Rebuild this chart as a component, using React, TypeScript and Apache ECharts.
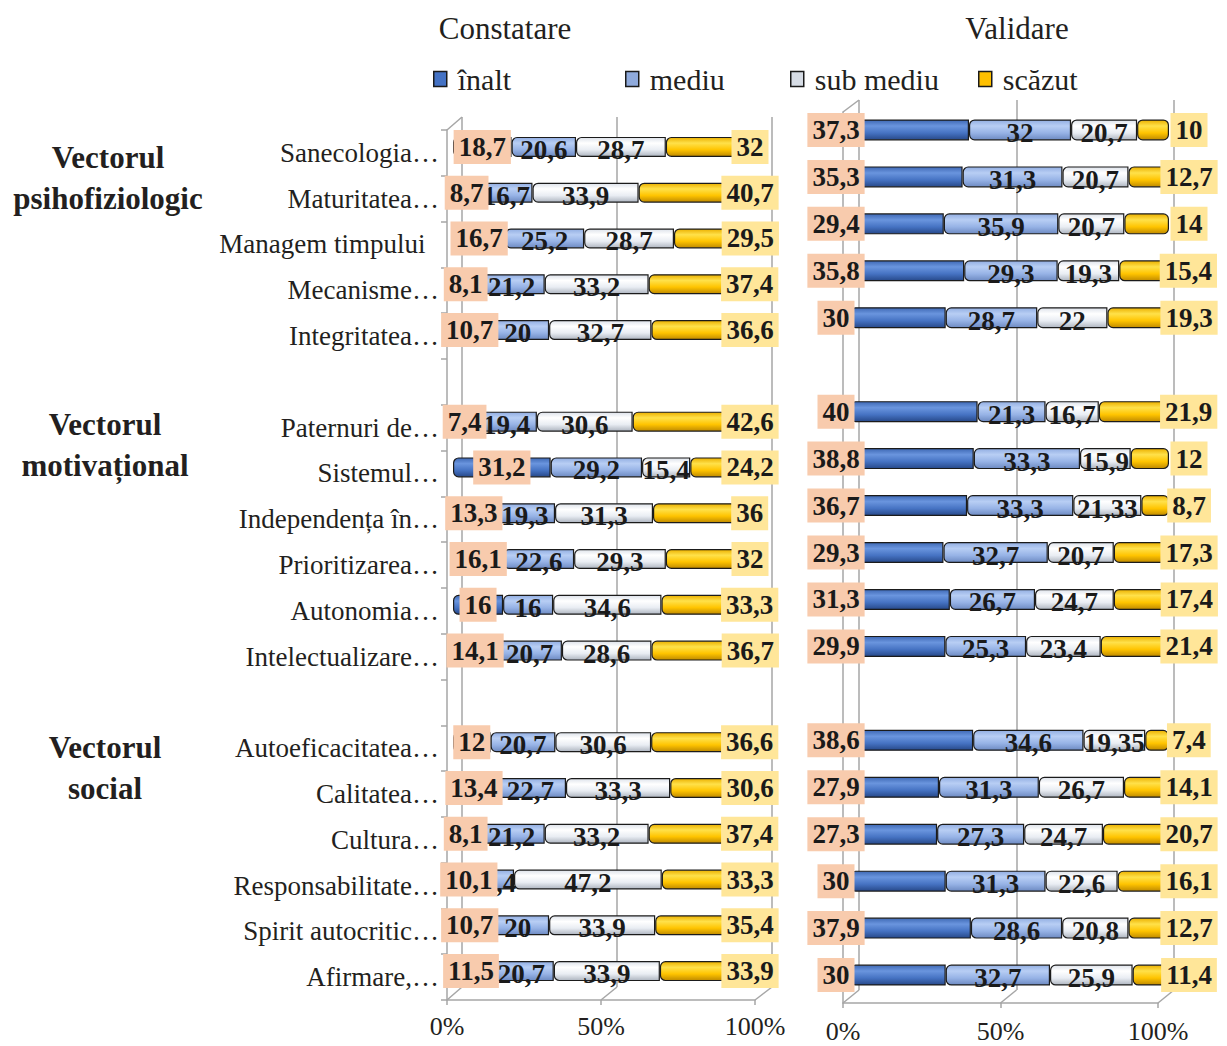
import React, { useEffect, useRef } from 'react';
import * as echarts from 'echarts';

const categories = [
  'Sanecologia…', 'Maturitatea…', 'Managem timpului\u00a0\u00a0', 'Mecanisme…', 'Integritatea…', '',
  'Paternuri de…', 'Sistemul…', 'Independența în…', 'Prioritizarea…', 'Autonomia…', 'Intelectualizare…', ' ',
  'Autoeficacitatea…', 'Calitatea…', 'Cultura…', 'Responsabilitate…', 'Spirit autocritic…', 'Afirmare,…',
];

const seriesNames = ['înalt', 'mediu', 'sub mediu', 'scăzut'];
const panelTitles = ['Constatare', 'Validare'];
const groupLabels = ['Vectorul\npsihofiziologic', 'Vectorul\nmotivațional', 'Vectorul\nsocial'];
const xTicks = [0, 50, 100];

// Constatare
const constInalt = [18.7, 8.7, 16.7, 8.1, 10.7, null, 7.4, 31.2, 13.3, 16.1, 16, 14.1, null, 12, 13.4, 8.1, 10.1, 10.7, 11.5];
const constMediu = [20.6, 16.7, 25.2, 21.2, 20, null, 19.4, 29.2, 19.3, 22.6, 16, 20.7, null, 20.7, 22.7, 21.2, 9.4, 20, 20.7];
const constSub = [28.7, 33.9, 28.7, 33.2, 32.7, null, 30.6, 15.4, 31.3, 29.3, 34.6, 28.6, null, 30.6, 33.3, 33.2, 47.2, 33.9, 33.9];
const constScazut = [32, 40.7, 29.5, 37.4, 36.6, null, 42.6, 24.2, 36, 32, 33.3, 36.7, null, 36.6, 30.6, 37.4, 33.3, 35.4, 33.9];

// Validare
const valInalt = [37.3, 35.3, 29.4, 35.8, 30, null, 40, 38.8, 36.7, 29.3, 31.3, 29.9, null, 38.6, 27.9, 27.3, 30, 37.9, 30];
const valMediu = [32, 31.3, 35.9, 29.3, 28.7, null, 21.3, 33.3, 33.3, 32.7, 26.7, 25.3, null, 34.6, 31.3, 27.3, 31.3, 28.6, 32.7];
const valSub = [20.7, 20.7, 20.7, 19.3, 22, null, 16.7, 15.9, 21.33, 20.7, 24.7, 23.4, null, 19.35, 26.7, 24.7, 22.6, 20.8, 25.9];
const valScazut = [10, 12.7, 14, 15.4, 19.3, null, 21.9, 12, 8.7, 17.3, 17.4, 21.4, null, 7.4, 14.1, 20.7, 16.1, 12.7, 11.4];

const SERIF = '"Liberation Serif", "Times New Roman", serif';
const TEXT = '#231F20';
const GRID_LINE = '#A6A6A6';

const LEFT = {
  front: { x0: 447, x1: 755, top: 130, bottom: 1000 },
  back: { x0: 462, x1: 772, top: 117, bottom: 987 },
  bar: { x0: 453, x1: 766, top: 124, bottom: 994 },
};
const RIGHT = {
  front: { x0: 843, x1: 1158, top: 112, bottom: 1003 },
  back: { x0: 859, x1: 1174, top: 100, bottom: 990 },
  bar: { x0: 850, x1: 1169, top: 106.5, bottom: 998.5 },
};

const grad = (stops: [number, string][]) =>
  new echarts.graphic.LinearGradient(0, 0, 0, 1, stops.map(([offset, color]) => ({ offset, color })));

const fills = [
  grad([[0, '#3F69B5'], [0.3, '#6A95DE'], [0.65, '#4673C3'], [1, '#27498A']]),
  grad([[0, '#92AEE2'], [0.3, '#B8CEF4'], [0.65, '#97B3E6'], [1, '#6D8AC2']]),
  grad([[0, '#DDE2EA'], [0.3, '#FFFFFF'], [0.65, '#E9EDF3'], [1, '#AEB5C0']]),
  grad([[0, '#EBB000'], [0.3, '#FFE14A'], [0.65, '#FFC400'], [1, '#BF8A00']]),
];
const legendColors = ['#4472C4', '#8FAADC', '#D6DCE5', '#FFC000'];
const legendLefts = [433, 625, 790, 978];

const fmt = (p: any) => (p.value == null ? '' : String(p.value).replace('.', ','));

const labelBase = {
  show: true,
  fontFamily: SERIF,
  fontWeight: 'bold',
  fontSize: 27,
  lineHeight: 27,
  color: '#1a1a1a',
  textBorderWidth: 0,
  formatter: fmt,
};
const boxPad = [4, 5, 3, 5];

function gridOf(b: { x0: number; x1: number; top: number; bottom: number }) {
  return { left: b.x0, top: b.top, width: b.x1 - b.x0, height: b.bottom - b.top, containLabel: false };
}

function App() {
  const ref = useRef<HTMLDivElement>(null);

  useEffect(() => {
    if (!ref.current) return;
    const chart = echarts.init(ref.current, null, { renderer: 'svg' });

    const panels = [LEFT, RIGHT];
    const grids: any[] = [];
    const xAxes: any[] = [];
    const yAxes: any[] = [];
    panels.forEach((P, pi) => {
      const base = pi * 3;
      grids.push(gridOf(P.front), gridOf(P.back), gridOf(P.bar));
      // front axes
      xAxes.push({
        gridIndex: base, type: 'value', min: 0, max: 100, interval: 50,
        axisLine: { show: true, lineStyle: { color: GRID_LINE, width: 1.5 } },
        axisTick: { show: true, length: 5, lineStyle: { color: GRID_LINE, width: 1.5 } },
        axisLabel: { formatter: '{value}%', fontFamily: SERIF, fontSize: 26, color: TEXT, margin: pi === 0 ? 13 : 15 },
        splitLine: { show: false },
      });
      yAxes.push({
        gridIndex: base, type: 'category', data: categories, inverse: true,
        axisLine: { show: true, lineStyle: { color: GRID_LINE, width: 1.5 } },
        axisTick: { show: pi === 0, length: 6, lineStyle: { color: GRID_LINE, width: 1.5 } },
        axisLabel: { show: pi === 0, fontFamily: SERIF, fontSize: 27, color: TEXT, margin: 8 },
      });
      // back axes
      xAxes.push({
        gridIndex: base + 1, type: 'value', min: 0, max: 100, interval: 50,
        axisLine: { show: false }, axisTick: { show: false }, axisLabel: { show: false },
        splitLine: { show: true, lineStyle: { color: GRID_LINE, width: 1.5 } },
      });
      yAxes.push({ gridIndex: base + 1, type: 'category', data: categories, inverse: true, show: false });
      // bar axes
      xAxes.push({ gridIndex: base + 2, type: 'value', min: 0, max: 100, show: false, splitLine: { show: false } });
      yAxes.push({ gridIndex: base + 2, type: 'category', data: categories, inverse: true, show: false });
    });

    const panelData = [
      [constInalt, constMediu, constSub, constScazut],
      [valInalt, valMediu, valSub, valScazut],
    ];

    const series: any[] = [];
    panelData.forEach((arrs, pi) => {
      arrs.forEach((data, si) => {
        let label: any;
        if (si === 0) {
          label = pi === 0
            ? { ...labelBase, position: 'inside', backgroundColor: '#F8CBAD', padding: boxPad }
            : { ...labelBase, position: ['0%', '50%'], offset: [-14, 0], align: 'center', verticalAlign: 'middle', backgroundColor: '#F8CBAD', padding: boxPad };
        } else if (si === 3) {
          label = { ...labelBase, position: ['100%', '50%'], offset: [pi === 0 ? -16 : 20, 0], align: 'center', verticalAlign: 'middle', backgroundColor: '#FFE699', padding: boxPad };
        } else {
          label = { ...labelBase, position: 'inside', offset: [0, 3] };
        }
        series.push({
          name: seriesNames[si],
          type: 'bar',
          stack: 'p' + pi,
          xAxisIndex: pi * 3 + 2,
          yAxisIndex: pi * 3 + 2,
          data,
          barWidth: pi === 0 ? 20 : 21,
          z: 6 - si,
          itemStyle: {
            color: fills[si],
            borderColor: '#1b1b1b',
            borderWidth: 1.2,
            borderRadius: si === 3 ? [5, 5, 5, 5] : [5, 0, 0, 5],
          },
          label,
          emphasis: { disabled: true },
        });
      });
    });

    const graphics: any[] = [];
    const lineStyle = { stroke: GRID_LINE, lineWidth: 1.5 };
    panels.forEach((P) => {
      graphics.push({ type: 'line', shape: { x1: P.front.x0, y1: P.front.top, x2: P.back.x0, y2: P.back.top }, style: lineStyle, z: 1 });
      xTicks.forEach((t) => {
        const fx = P.front.x0 + ((P.front.x1 - P.front.x0) * t) / 100;
        const bx = P.back.x0 + ((P.back.x1 - P.back.x0) * t) / 100;
        graphics.push({ type: 'line', shape: { x1: fx, y1: P.front.bottom, x2: bx, y2: P.back.bottom }, style: lineStyle, z: 1 });
      });
    });
    const groupPos = [[108, 177.5], [105, 445], [105, 768]];
    groupLabels.forEach((g, i) => {
      graphics.push({
        type: 'text', x: groupPos[i][0], y: groupPos[i][1],
        style: { text: g, fill: TEXT, font: `bold 31px ${SERIF}`, align: 'center', verticalAlign: 'middle', lineHeight: 41 },
      });
    });
    const titlePos = [[505, 28], [1017, 28]];
    panelTitles.forEach((t, i) => {
      graphics.push({
        type: 'text', x: titlePos[i][0], y: titlePos[i][1],
        style: { text: t, fill: TEXT, font: `31px ${SERIF}`, align: 'center', verticalAlign: 'middle' },
      });
    });

    const legends = seriesNames.map((n, i) => ({
      data: [{ name: n, itemStyle: { color: legendColors[i], borderColor: '#1a1a1a', borderWidth: 1.5 } }],
      left: legendLefts[i],
      top: 64,
      padding: 0,
      icon: 'rect',
      itemWidth: 13,
      itemHeight: 15,
      selectedMode: false,
      textStyle: { fontFamily: SERIF, fontSize: 30, color: TEXT, lineHeight: 30, padding: [0, 0, 0, 6] },
    }));

    chart.setOption({
      animation: false,
      backgroundColor: '#ffffff',
      grid: grids,
      xAxis: xAxes,
      yAxis: yAxes,
      legend: legends,
      series,
      graphic: graphics,
    });

    return () => chart.dispose();
  }, []);

  return <div ref={ref} style={{ width: 1227, height: 1046, position: 'absolute', left: 0, top: 0 }} />;
}

export default App;
